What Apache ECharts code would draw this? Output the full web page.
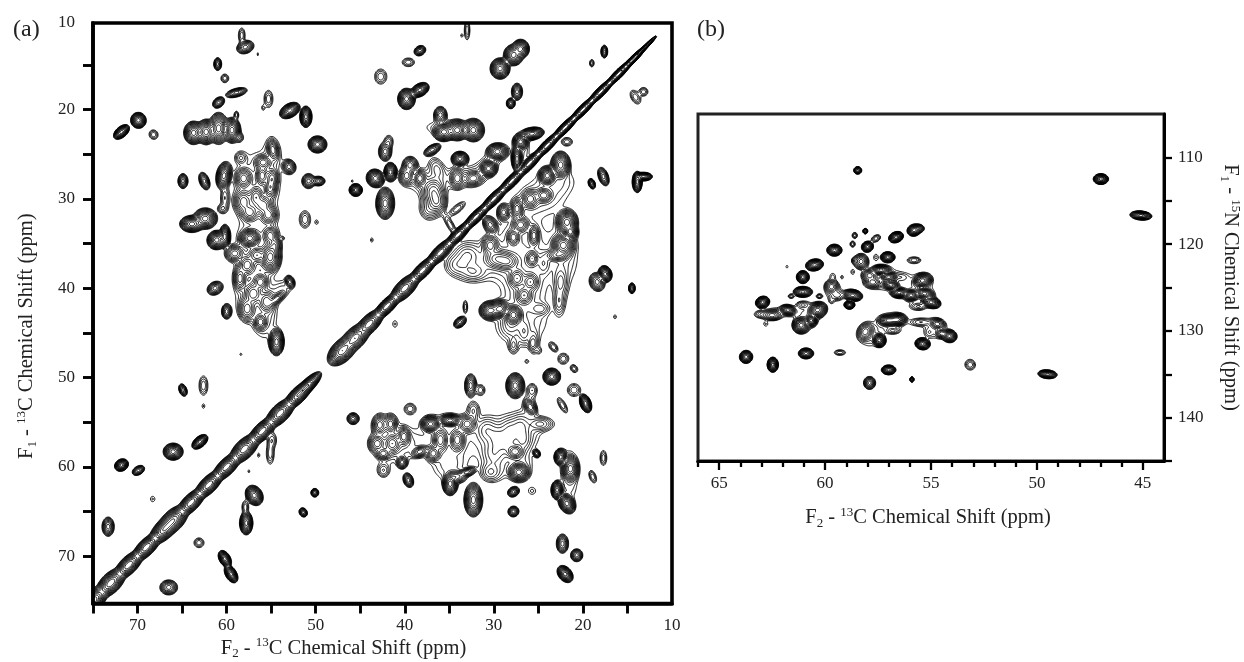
<!DOCTYPE html>
<html><head><meta charset="utf-8">
<style>html,body{margin:0;padding:0;background:#fff}#c{width:1244px;height:662px}</style>
<script src="https://cdn.jsdelivr.net/npm/echarts@6/dist/echarts.min.js"></script>
</head><body><div id="c"></div>
<script>
// peak tables: [F2 ppm, F1 ppm, F2 half-width ppm, F1 half-width ppm, tilt degrees]
const aStrong = [
[52.9,20.1,1.0,.65,30],[51.1,20.8,.55,1,0],[49.8,23.9,.85,.8,0],[71.8,22.5,.85,.5,40],[69.9,21.2,.7,.75,20],
[63.7,22.6,.9,1.1,0],[62.3,22.5,.9,1.2,0],[60.9,22.1,.9,1.5,0],[59.4,22.3,.8,1.2,0],
[60.3,27.4,.7,1.3,-10],[62.4,32.2,1.1,1.0,0],[63.9,32.8,1.1,.8,0],[61.1,34.6,.9,.9,30],[60.2,34.2,.5,1.1,0],
[57.4,34.4,1.0,.9,0],[55.1,36.5,1.0,1.5,0],[54.4,46,.7,1.3,0],[45.5,29,.6,.6,0],
[27.8,13.9,.9,1.0,0],[29.3,15.4,.9,1.0,0],[27,13.2,.8,.9,0],[38.3,17.8,.9,.6,30],[39.8,18.8,.8,1.0,0],
[35.6,22.5,1,.9,0],[34.1,22.3,1.0,1.0,0],[32.3,22.3,1.0,1.1,0],[41.6,27,.6,.9,0],[43.3,27.7,.8,.9,40],[42.2,30.5,.85,1.5,0],
[33.8,25.5,.8,.7,0],[29.6,24.7,1,.8,0],[30.6,26.6,.8,.8,0],[25.7,22.7,1.1,.6,10],[27,23.6,.7,.8,0],[27.4,25.5,.5,1.2,0],
[22.5,26.2,.9,1.3,0],[24,27.4,.8,.9,0],[21.8,32.6,1,1.2,0],[22.2,35.2,1.1,1.2,0],[21.4,33.7,.7,.8,0],[30.4,42.5,1.0,.9,0],[29.3,42.3,.9,.9,0],[27.8,43,.9,1,0],
[17.5,38.4,.6,.8,20],[13.9,28.1,.45,1,0],[13.2,27.5,.8,.4,0],
[32.3,63.7,.85,1.6,0],[27.6,50.9,.85,1.2,0],[23.5,49.9,.8,.8,0],[19.7,52.9,.5,.9,20],[37.1,55.2,.9,.8,0],[34.9,54.8,1,.6,0],[34.9,61.9,.7,1.1,0],
[27.2,60.6,1,.9,0],[21.4,60.2,.8,1.3,0],[22.5,58.9,.6,.8,0],[21.8,64.1,.7,1,30],[22.9,62.6,.55,.9,0],[22,72,.6,.9,40],
[63,57.2,.85,.5,40],[71.8,59.8,.65,.55,30],[66,58.3,.9,.8,0],[56.9,63.2,.75,1.0,30],[59.5,72,.5,.9,30],[60.2,70.3,.5,.85,30],[57.8,66.3,.6,1.1,0]
];
const aMedium = [
[57.9,13,.8,.6,20],[61,14.9,.35,.6,0],[58.9,18.1,1.0,.4,15],[60.9,19.2,.6,.45,40],[64.9,28,.45,.7,0],[62.5,28,.45,.85,20],[53,26.4,.6,.7,30],
[54.8,24.5,.5,1,10],[55.9,25.9,.8,.7,0],[58.1,27.7,.8,1,0],[56,27.4,.6,1,0],[54.9,27.7,.6,1,0],[58.1,30.3,.9,1.2,0],[56.7,29.8,.7,1.1,0],[55.9,30.7,.9,1,0],[57.4,31.5,.9,.9,0],[55.3,31.8,.8,.9,0],[55.1,28.8,.6,1,0],
[50.8,28,.6,.7,0],[49.7,28,.6,.45,0],[59.1,36.1,.9,.8,0],[56.6,36.3,.8,.8,0],[57.7,37.4,.8,1,0],[58.5,38.9,.6,1.2,0],[55.1,34.1,.7,.9,0],[54.6,35.2,.6,.9,0],
[61.3,40,.75,.6,30],[60,42.6,.45,.7,0],[57,40.6,.9,1.1,0],[57.7,42.3,.8,1.2,0],[55.5,41.5,.8,1.1,0],[56.2,39.3,.7,.8,0],[56.2,43.8,.6,.8,0],[52.9,39.3,.4,.6,20],[54.4,41.2,1,.4,40],
[38.3,13.4,.55,.45,30],[17.6,13.5,.3,.6,0],[27.4,18,.5,.8,0],[28.1,19.3,.4,.5,0],[36,20.6,.6,.8,0],[36.9,24.5,.85,.45,30],[42.2,24.7,.6,.9,0],
[39.4,26.2,.7,.8,0],[39.8,27.4,.7,.9,0],[38.3,27.7,.6,.8,0],[36.8,29.2,1.1,1.4,0],[36.4,30.3,.9,1.2,0],[34.1,27.7,.7,1,0],[32.3,27.7,.9,.7,10],
[25.9,30,.8,.9,0],[24.4,29.6,.8,.7,0],[27.4,31.1,.6,1,0],[28.9,31.5,.6,.8,0],[27,32.9,.8,.8,0],[27.8,34.3,.6,.8,0],[25.5,34.1,.5,1,0],[30.4,32.9,.6,.9,30],[22.9,36.3,1.1,.6,0],
[29.6,36.7,1.3,1,0],[28.5,37,1.1,.9,0],[30.4,35.2,.8,1,0],[25.7,36.7,.6,.8,0],[27.4,38.9,.8,1,0],[25.9,39.3,.8,.9,0],[26.6,40.8,.8,.9,0],[18.4,39.3,.7,.9,20],[14.5,40,.3,.5,0],[33.8,43.8,.65,.45,40],[19,28.3,.3,.5,20],[17.7,27.5,.45,.9,20],
[32.6,50.9,.55,1.1,0],[45.8,54.6,.55,.55,0],[42.8,55.3,.7,1,0],[41.6,55.2,.6,.9,0],[43.1,57.4,.8,.9,0],[41.4,57.4,.8,1,0],[40.1,56.6,.6,.9,0],[42.4,58.5,.7,.6,0],[40.3,59.5,.5,.6,0],[38.3,58.3,.8,.5,20],[39.6,61.5,.45,.7,20],
[33,55.2,.9,.9,0],[36,57,.7,1.2,0],[34.1,57,.7,1.1,0],[36.8,58.5,.7,.8,0],[34.2,61.1,.9,.6,0],[33,60.6,.8,.4,20],[27.6,58.3,.8,.7,0],[25.9,53.3,.5,.8,30],[27.8,62.8,.55,.45,30],[27.8,65,.5,.5,30],[25.2,58.5,.3,.4,30],
[22.3,68.6,.55,.9,0],[20.7,69.9,.55,.6,0],[64.9,51.4,.35,.6,20],[69.9,60.4,.6,.4,30],[73.3,66.7,.55,.9,0],[51.4,65.1,.35,.45,30],[50.1,62.9,.35,.4,0],[66.5,73.5,.8,.7,0]
];
const aWeak = [
[58.3,11.7,.3,.7,0],[60.2,16.5,.35,.4,0],[55.3,18.8,.4,.8,0],[68.2,22.8,.4,.45,30],[58.9,20.6,.2,.35,0],[58.6,23.1,.35,.4,0],[58.4,25.4,.45,.5,20],
[60.2,29.9,.35,1,0],[60.5,31.1,.4,.4,0],[51.2,32.3,.5,.8,0],[33,11.1,.25,.9,0],[39.6,14.7,.55,.4,0],[42.7,16.3,.55,.7,0],[19,14.8,.2,.35,0],[14.1,18.6,.4,.7,30],[13.2,18,.4,.4,0],
[41.8,23.6,.4,.6,0],[36.4,26.6,.6,1,20],[37.3,31.1,.6,.8,0],[34.1,31.1,.9,.35,40],[34.9,32.9,.3,1,30],[21.8,23.6,.5,.4,0],[33,36.3,.9,.9,0],[34.1,37.4,1,.9,0],[32.3,38.2,1,.7,0],[24.4,37.2,.5,.9,0],[22.5,39.3,.5,1,0],[22.7,41.5,.4,1,0],
[26.6,44.9,.5,1,0],[25.5,46,.4,1,0],[28.1,44.1,.8,1,0],[24.8,42.3,.7,.5,0],[33.2,42.1,.2,.6,0],
[23.3,46.6,.3,.5,40],[22.2,47.9,.5,.5,40],[21,49,.3,.4,40],[25.7,46.2,.3,.5,0],[27.8,46.4,.4,.7,0],[31.5,51.4,.4,.5,0],[25.7,51.4,.45,.6,0],[21,51.4,.6,.6,0],[22.3,53.1,.3,.8,30],
[39.4,53.5,.5,.5,0],[42.4,60.4,.5,.6,0],[32.3,53.7,.5,.8,0],[30.8,55.9,.8,1,0],[29.6,56.7,.8,1,0],[30,58.5,.9,1.1,0],[28.2,55.9,.8,1,0],[28.5,57.4,.8,1,0],[27,55.5,.7,1,0],[26.7,57,.6,.9,0],[24.8,55.2,.8,.5,0],[30.4,60.6,.7,.7,0],[17.7,59,.3,.7,0],[18.9,61.1,.3,.6,20],
[62.6,50.9,.4,.9,0],[63.1,68.5,.45,.45,0],[57.9,64.5,.3,.6,0],[55.1,58.5,.35,1,0],[54.9,57,.4,.7,0]
];
const aFaint = [
[55.9,19.8,.12,.2,0],[49.9,32.6,.15,.2,0],[43.7,34.6,.12,.2,0],[45.9,28,.08,.12,0],[33.6,11.7,.1,.15,0],[41.1,44,.2,.3,0],[16.4,43.2,.13,.18,0],[24.9,47,.15,.2,0],[26.3,48.2,.15,.15,0],[25.7,62.7,.3,.3,0],[62.6,53.2,.12,.2,0],[68.3,63.6,.2,.25,0],[56.4,58.7,.1,.2,0],[57.5,60.5,.08,.15,0],[58.4,47.4,.1,.1,0],[53.7,34.4,.1,.1,0],[56.5,13.8,.06,.15,0]
];
// broad low plateaus that join the cross-peak clusters
const aPlateaus = [
[56.5,28.5,1.9,3,0],[54.8,25,.55,1.2,0],[56.5,34.5,1.5,1.7,0],[56.8,37.5,1.4,1.5,0],[57,41,1.5,1.8,0],[55.7,43.5,.9,1.6,0],[53.8,40.2,1,.6,40],
[35.5,22,1.6,.6,0],[37.5,28,1.8,1.1,0],[33,27.5,1.5,.8,0],[37,31,.9,.9,0],[30.4,25.8,1.6,.7,40],[26.8,24.6,.6,1.4,0],
[25,30,1.8,1.2,0],[27,34,1.8,1.8,0],[23,28,1.5,1.1,0],[29,37,2.2,1.5,0],[26,38,1.8,1.8,0],[26.5,41,1.5,1.5,0],[27,44,2.1,1.8,0],[32.8,37,1.4,1.5,0],[22,36,1.1,2.6,0],[22.5,40,.45,1.8,0],
[42,57,1.2,1.9,0],[40,57.5,1.2,1.1,0],[35.5,56.5,2,1.9,0],[35,60,1.2,1.2,0],[29.5,57,1.9,2,0],[26.5,56,1.2,1.5,0],[27,60,.9,1.1,0],[30,60.5,.9,.8,0],[24.5,55.2,.9,.5,0],[26,53,.45,.8,0],[21.5,61,.7,2.2,0]
];
// diagonal ridge: [shift ppm, half-width ppm]
const aDiagonal = [[75,1.1],[73,1.1],[71,.95],[69,.9],[67,1.05],[66,1.15],[64,.9],[62,.9],[60,.9],[58,1.05],[56,.9],[54,1.0],[52,.85],[50.9,.7],
[47,1.2],[45.6,1.15],[44,.95],[42,.75],[40,.95],[38,.75],[36,.75],[34,.62],[32,.6],[30,.6],[28,.58],[26,.58],[24,.55],[22,.52],[20,.5],[18,.5],[16,.46],[14.4,.36],[13.2,.22]];

const bStrong = [
[63.73,133,.33,.6,20],[62.47,133.9,.28,.7,0],[60.9,132.6,.38,.5,0],[57,134.5,.36,.45,0],[62.95,126.7,.36,.55,20],[61.76,127.6,.4,.5,-10],
[61.13,129.35,.45,.8,10],[60.35,127.6,.5,.75,20],[60.66,128.8,.3,.6,0],[61.05,125.5,.48,.5,0],[61.05,123.8,.32,.6,35],[60.5,122.4,.45,.55,10],[59.56,120.7,.38,.55,0],
[58,120.3,.3,.5,20],[56.65,119.2,.38,.5,20],[55.8,118.4,.35,.55,15],[57.04,121.5,.36,.5,0],[58.7,125.9,.5,.55,-10],[58.85,127,.27,.4,0],[57.36,123,.5,.5,0],[57,123.8,.45,.5,0],[56.9,124.7,.45,.5,-15],
[55.4,124.2,.5,.7,15],[56.5,125.6,.45,.5,0],[55.94,125.9,.4,.55,0],[55.3,125.7,.5,.55,-15],[55,126.7,.5,.55,-15],[57,128.8,.55,.55,0],[56.6,128.7,.5,.6,0],[57.44,131.1,.33,.65,20],[55.4,131.5,.38,.55,-10],[54.13,130.6,.38,.6,-10],
[46.98,112.5,.38,.5,0],[45.09,116.7,.55,.42,-5],[49.5,135,.48,.4,-5]
];
const bMedium = [
[58.46,111.5,.2,.35,0],[57.9,136,.3,.6,0],[62.5,128.2,.5,.5,0],[58.1,118.5,.12,.25,0],[55.6,118.2,.3,.4,0],[58.3,122,.38,.75,0],[59.7,124.9,.35,.65,0],[57.9,123.6,.4,.55,0],[57.75,124.4,.45,.55,0],[58.1,130.1,.38,.9,-30],[54.7,129.2,.4,.5,-15],[54.5,130.3,.3,.45,0],[55.9,135.6,.1,.25,0]
];
const bWeak = [
[59.3,132.5,.28,.25,0],[53.15,133.9,.26,.5,30],[58.6,119,.13,.28,0],[58.7,120,.13,.28,0],[57.6,119.35,.25,.3,30],[55.8,121.85,.33,.3,0],[59.4,125.9,.3,.4,0],[55.6,127.2,.35,.3,0],[55.5,129,.5,.35,0],[56.8,130,.3,.25,0],[63,128.1,.35,.35,0],[61.05,127,.3,.3,0],[61.6,126,.15,.2,0],[60.27,126,.15,.2,0],[58.6,121.9,.15,.3,0]
];
const bFaint = [
[62.8,129.2,.1,.2,0],[61.8,122.6,.05,.12,0],[59.64,123.7,.12,.25,0],[59.2,123.8,.06,.15,0],[58.7,123.2,.08,.2,0],[57.6,121.5,.1,.25,0],[59.7,126.5,.08,.2,0],[56.4,123.8,.2,.2,0],[55.1,130.2,.12,.25,0]
];
const bPlateaus = [
[55.6,125.3,.7,1.2,0],[57.2,124,.8,1,0],[56.9,129,.6,.8,0],[60.8,128.3,.5,1,0],[62,127.8,.7,.4,0],[57.9,130.6,.45,.9,0],[59.6,125.5,.35,.7,0],[54.8,129.8,.5,.8,0]
];

const contourLevels = [1,1.4,1.96,2.74,3.84,5.38,7.53,10.5,14.8,20.7,28.9,40.5,56.7,79.4,111,156,218,305];
const strongHeight = 70, mediumHeight = 18, weakHeight = 3.6, faintHeight = 1.5, ridgeHeight = 110, plateauHeight = 2.0;

const xTicksA = [15,20,25,30,35,40,45,50,55,60,65,70,75];
const yTicksA = [15,20,25,30,35,40,45,50,55,60,65,70];
const xLabelsA = [10,20,30,40,50,60,70];
const yLabelsA = [10.3,20,30,40,50,60,70];
const xMinorTicksB = [46,47,48,49,51,52,53,54,56,57,58,59,61,62,63,64,66];
const xMajorTicksB = [45,50,55,60,65];
const yTicksB = [110,115,120,125,130,135,140,145];
const xLabelsB = [45,50,55,60,65];
const yLabelsB = [110,120,130,140];

function addPeaks(field, g, list, height) {
  const lnA = Math.log(height);
  list.forEach(p => {
    const [x0, y0, rx0, ry0, rot = 0] = p;
    const rx = rx0 * g.growX, ry = ry0 * g.growY;
    const th = rot * Math.PI / 180, c = Math.cos(th), s = Math.sin(th);
    const Rx = Math.max(rx, ry / g.aspect) * 3, Ry = Math.max(ry, rx * g.aspect) * 3;
    const rxs = rx * g.aspect;
    const i0 = Math.max(0, Math.floor((x0 - Rx - g.x0) / g.dx)), i1 = Math.min(g.nx - 1, Math.ceil((x0 + Rx - g.x0) / g.dx));
    const j0 = Math.max(0, Math.floor((y0 - Ry - g.y0) / g.dy)), j1 = Math.min(g.ny - 1, Math.ceil((y0 + Ry - g.y0) / g.dy));
    for (let j = j0; j <= j1; j++) {
      const dy = -(g.y0 + j * g.dy - y0);
      for (let i = i0; i <= i1; i++) {
        const dx = -(g.x0 + i * g.dx - x0) * g.aspect;
        const u = (dx * c + dy * s) / rxs, v = (-dx * s + dy * c) / ry;
        field[j * g.nx + i] += height * Math.exp(-lnA * (u * u + v * v));
      }
    }
  });
}
function addRidge(field, g, list, height) {
  const lnA = Math.log(height);
  list.forEach(([p, w]) => {
    const along = 2.1, R = 6;
    const i0 = Math.max(0, Math.floor((p - R - g.x0) / g.dx)), i1 = Math.min(g.nx - 1, Math.ceil((p + R - g.x0) / g.dx));
    const j0 = Math.max(0, Math.floor((p - R - g.y0) / g.dy)), j1 = Math.min(g.ny - 1, Math.ceil((p + R - g.y0) / g.dy));
    for (let j = j0; j <= j1; j++) {
      const yy = g.y0 + j * g.dy - p;
      for (let i = i0; i <= i1; i++) {
        const xx = g.x0 + i * g.dx - p;
        const a = (xx + yy) / Math.SQRT2 / along, b = (xx - yy) / Math.SQRT2 / w;
        field[j * g.nx + i] += height * Math.exp(-lnA * (a * a + b * b));
      }
    }
  });
}
function contour(field, g, level) {
  const out = [];
  const {nx, ny, x0, y0, dx, dy} = g;
  const X = i => x0 + i * dx, Y = j => y0 + j * dy;
  for (let j = 0; j < ny - 1; j++) for (let i = 0; i < nx - 1; i++) {
    const a = field[j * nx + i], b = field[j * nx + i + 1], c = field[(j + 1) * nx + i + 1], d = field[(j + 1) * nx + i];
    const code = (a >= level ? 1 : 0) | (b >= level ? 2 : 0) | (c >= level ? 4 : 0) | (d >= level ? 8 : 0);
    if (code === 0 || code === 15) continue;
    const T = () => [X(i + (level - a) / (b - a)), Y(j)];
    const R = () => [X(i + 1), Y(j + (level - b) / (c - b))];
    const B = () => [X(i + (level - d) / (c - d)), Y(j + 1)];
    const L = () => [X(i), Y(j + (level - a) / (d - a))];
    const push = (p, q) => { const s = p(), e = q(); out.push(s[0], s[1], e[0], e[1]); };
    switch (code) {
      case 1: case 14: push(L, T); break;
      case 2: case 13: push(T, R); break;
      case 3: case 12: push(L, R); break;
      case 4: case 11: push(R, B); break;
      case 6: case 9: push(T, B); break;
      case 7: case 8: push(L, B); break;
      case 5: push(L, T); push(R, B); break;
      case 10: push(T, R); push(L, B); break;
    }
  }
  return out;
}
function buildLevels(g, sets, ridge) {
  const field = new Float32Array(g.nx * g.ny);
  sets.forEach(([list, h]) => addPeaks(field, g, list, h));
  if (ridge) addRidge(field, g, ridge, ridgeHeight);
  return contourLevels.map(l => contour(field, g, l));
}
const gridA = {x0: 10, y0: 10, dx: .1, dy: .1, nx: 651, ny: 656, aspect: 1, growX: 1.25, growY: 1.2};
const gridB = {x0: 44, y0: 105, dx: .045, dy: .11, nx: 490, ny: 365, aspect: 2.445, growX: .95, growY: 1.25};
const levelsA = buildLevels(gridA, [[aStrong, strongHeight], [aMedium, mediumHeight], [aWeak, weakHeight], [aFaint, faintHeight], [aPlateaus, plateauHeight]], aDiagonal);
const levelsB = buildLevels(gridB, [[bStrong, strongHeight], [bMedium, mediumHeight], [bWeak, weakHeight], [bFaint, faintHeight], [bPlateaus, plateauHeight]], null);

function contourSeries(levels, xi, yi) {
  return {
    type: 'custom', coordinateSystem: 'cartesian2d', xAxisIndex: xi, yAxisIndex: yi, silent: true, clip: true,
    data: contourLevels.map((l, i) => [i]), encode: {x: [], y: []},
    renderItem(params, api) {
      const segs = levels[api.value(0)];
      const parts = [];
      for (let k = 0; k < segs.length; k += 4) {
        const a = api.coord([segs[k], segs[k + 1]]), b = api.coord([segs[k + 2], segs[k + 3]]);
        parts.push('M' + a[0].toFixed(2) + ' ' + a[1].toFixed(2) + 'L' + b[0].toFixed(2) + ' ' + b[1].toFixed(2));
      }
      return {type: 'path', shape: {pathData: parts.join('') || 'M0 0'}, style: {fill: null, stroke: '#000', lineWidth: .9}};
    }
  };
}
const FONT = '"Liberation Serif","Times New Roman",serif';
const ink = '#222';
const nameRich = {
  t: {fontFamily: FONT, fontSize: 20.5, color: ink, lineHeight: 24},
  sub: {fontFamily: FONT, fontSize: 13, color: ink, verticalAlign: 'bottom', lineHeight: 24, padding: [8, 0, 0, 0]},
  sup: {fontFamily: FONT, fontSize: 13, color: ink, verticalAlign: 'top', lineHeight: 24}
};
function axisBase(min, max, name, gap, pos, ticks, labels, lw, margin, pad) {
  return {
    type: 'value', inverse: true, min, max, position: pos, name, nameLocation: 'middle', nameGap: gap, nameMoveOverlap: false,
    nameTextStyle: {rich: nameRich, fontFamily: FONT, fontSize: 20.5, color: ink},
    axisLine: {show: true, onZero: false, lineStyle: {color: '#000', width: lw}},
    axisTick: {show: true, inside: false, length: 10, customValues: ticks, lineStyle: {color: '#000', width: lw - .7}},
    axisLabel: {show: true, fontFamily: FONT, fontSize: 17, color: ink, margin, padding: pad, customValues: labels, hideOverlap: false, showMinLabel: true, showMaxLabel: true,
      formatter: v => String(Math.round(v))},
    splitLine: {show: false}
  };
}
const nameX = '{t|F}{sub|2}{t| - }{sup|13}{t|C Chemical Shift (ppm)}';
const nameYA = '{t|F}{sub|1}{t| - }{sup|13}{t|C Chemical Shift (ppm)}';
const nameYB = '{t|F}{sub|1}{t| - }{sup|15}{t|N Chemical Shift (ppm)}';

const xA = axisBase(10, 75, nameX, 33, 'bottom', xTicksA, xLabelsA, 3.6, 14, 0);
xA.nameTextStyle.padding = [0, 78, 0, 0];
const yA = axisBase(10.3, 75.3, nameYA, 54, 'left', yTicksA, yLabelsA, 3.6, 18, [5, 0, 0, 0]);
yA.nameTextStyle.padding = [0, 46, 0, 0];
const yB = axisBase(105, 145, nameYB, 54, 'right', yTicksB, yLabelsB, 3, 14, [0, 0, 8, 0]);
yB.nameRotate = -90;
yB.axisTick.length = 8;
const xB = axisBase(44, 66, nameX, 45, 'bottom', xMajorTicksB, xLabelsB, 3, 14, 0);
xB.axisTick.length = 9;
xB.nameTextStyle.padding = [0, 6, 0, 0];
const xBMinor = axisBase(44, 66, '', 0, 'bottom', xMinorTicksB, [], 3, 14, 0);
xBMinor.axisLabel.show = false;
xBMinor.axisTick.length = 6;

const chart = echarts.init(document.getElementById('c'), null, {renderer: 'canvas'});
chart.setOption({
  animation: false, backgroundColor: '#fff',
  title: [
    {text: '(a)', left: 8, top: 13, textStyle: {fontFamily: FONT, fontSize: 24, fontWeight: 'normal', color: ink}},
    {text: '(b)', left: 692, top: 13, textStyle: {fontFamily: FONT, fontSize: 24, fontWeight: 'normal', color: ink}}
  ],
  grid: [
    {left: 93, right: 1244 - 672, top: 23, height: 580.5, show: true, borderColor: '#000', borderWidth: 3.6, containLabel: false, outerBoundsMode: 'none'},
    {left: 698, right: 1244 - 1164, top: 114, height: 347, show: true, borderColor: '#222', borderWidth: 3, containLabel: false, outerBoundsMode: 'none'}
  ],
  xAxis: [Object.assign(xA, {gridIndex: 0}), Object.assign(xB, {gridIndex: 1}), Object.assign(xBMinor, {gridIndex: 1})],
  yAxis: [Object.assign(yA, {gridIndex: 0}), Object.assign(yB, {gridIndex: 1})],
  series: [contourSeries(levelsA, 0, 0), contourSeries(levelsB, 1, 1)]
});
</script></body></html>
